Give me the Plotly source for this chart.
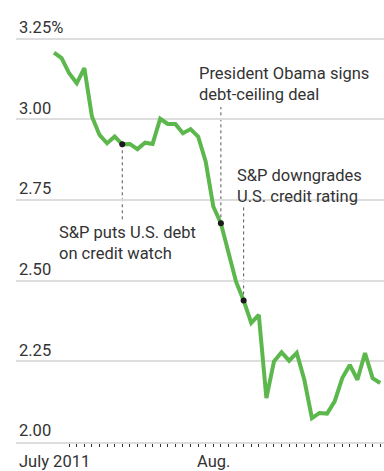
import plotly.graph_objects as go
import pandas as pd

# Weekday trading calendar (x categories)
dates = pd.bdate_range("2011-07-01", "2011-08-31")
idx = list(range(len(dates)))

# 10-year Treasury yield (%)
yields = [3.207, 3.19, 3.143, 3.112, 3.159, 3.009, 2.952, 2.926, 2.947, 2.923,
          2.924, 2.908, 2.928, 2.924, 3.002, 2.986, 2.986, 2.957, 2.970, 2.947,
          2.869, 2.730, 2.678, 2.59, 2.497, 2.439, 2.369, 2.394, 2.136, 2.25,
          2.278, 2.252, 2.276, 2.193, 2.074, 2.09, 2.088, 2.126, 2.198, 2.239,
          2.193, 2.276, 2.198, 2.183]

# Events
event_idx = [9, 22, 25]
event_text = ["S&P puts U.S. debt<br>on credit watch",
              "President Obama signs<br>debt-ceiling deal",
              "S&P downgrades<br>U.S. credit rating"]

y_ticks = [2.00, 2.25, 2.50, 2.75, 3.00, 3.25]
y_ticktext = ["2.00", "2.25", "2.50", "2.75", "3.00", "3.25%"]
x_major = [0, 21]
x_major_text = ["July 2011", "Aug."]

FONT = "Roboto"
TXT = "#333333"
FS = 16.5

W, H = 384, 471
ml, mr, mt, mb = 16, 0, 0, 29
plot_h = H - mt - mb
ppu = (442 - 38.8) / 1.25
y_top = 2.0 + plot_h / ppu
xppu = (213.3 - 54) / 21
x0 = -(54 - ml) / xppu
x1 = (W - 54) / xppu


def yv(py):
    return 2.0 + (442 - py) / ppu


def xv(px):
    return (px - 54) / xppu


fig = go.Figure()
fig.add_trace(go.Scatter(x=idx, y=yields, mode="lines",
                         line=dict(color="#5cb84c", width=4),
                         hoverinfo="skip"))

# text anchors (pixel layout) and leader-line ends
text_left_px = [57, 197, 235]
text_top_px = [221, 62, 164]
leader_end_px = [221, 107, 207]

for i, ev in enumerate(event_idx):
    fig.add_shape(type="line", x0=ev, x1=ev, y0=yields[ev], y1=yv(leader_end_px[i]),
                  line=dict(color="#555555", width=1, dash="dot"), layer="below")
    fig.add_annotation(x=xv(text_left_px[i]), y=yv(text_top_px[i]), text=event_text[i],
                       showarrow=False, xanchor="left", yanchor="top", align="left",
                       font=dict(family=FONT, size=FS, color=TXT))

fig.add_trace(go.Scatter(x=event_idx, y=[yields[e] for e in event_idx], mode="markers",
                         marker=dict(color="#1a1a1a", size=6), hoverinfo="skip"))

# x-axis month labels
for xm, tx in zip(x_major, x_major_text):
    fig.add_annotation(x=xm, y=1 - (461 - mt) / plot_h, xref="x", yref="paper",
                       text=tx, showarrow=False, xanchor="center", yanchor="middle",
                       font=dict(family=FONT, size=FS, color=TXT))

fig.update_layout(
    width=W, height=H,
    margin=dict(l=ml, r=mr, t=mt, b=mb),
    paper_bgcolor="white", plot_bgcolor="white",
    showlegend=False,
    font=dict(family=FONT, size=FS, color=TXT),
    xaxis=dict(range=[x0, x1], showgrid=False, zeroline=False,
               showline=True, linecolor="#dddddd", linewidth=1.5,
               tickmode="array", tickvals=x_major, ticktext=["", ""],
               ticks="outside", ticklen=6, tickwidth=1.2, tickcolor="#333333",
               minor=dict(tickmode="array", tickvals=idx, ticks="outside",
                          ticklen=3.5, tickwidth=1, tickcolor="#333333",
                          showgrid=False)),
    yaxis=dict(range=[2.0, y_top], showgrid=True, gridcolor="#dddddd", gridwidth=1.5,
               zeroline=False, showline=False,
               tickmode="array", tickvals=y_ticks, ticktext=y_ticktext,
               ticklabelposition="inside top", ticks="",
               tickfont=dict(family=FONT, size=FS, color=TXT)),
)

fig.write_html("out.html")
